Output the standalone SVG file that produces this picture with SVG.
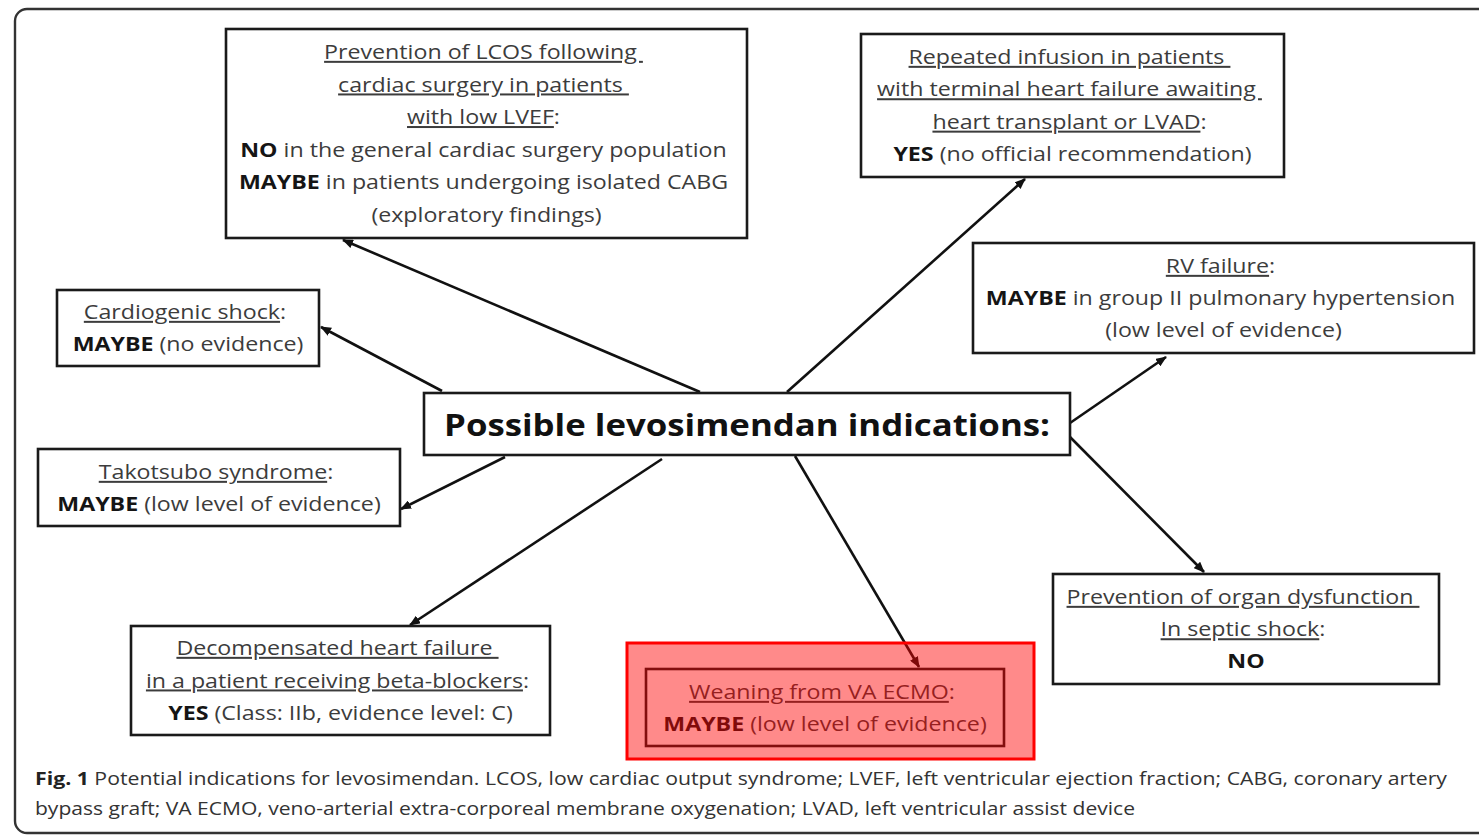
<svg xmlns="http://www.w3.org/2000/svg" width="1479" height="836" viewBox="0 0 1479 836">
<style>
.box{fill:#fff;stroke:#1a1a1a;stroke-width:2.6}
.t{font-family:"Open Sans","Noto Sans",sans-serif;font-size:20px;fill:#3c3c3c;text-anchor:middle}
.b{font-weight:bold;fill:#151515}
.u{text-decoration:underline}
.title{font-family:"Open Sans","Noto Sans",sans-serif;font-size:30px;font-weight:bold;fill:#111;text-anchor:middle}
.cap{font-family:"Open Sans","Noto Sans",sans-serif;font-size:18px;fill:#333}
.arr{stroke:#111;stroke-width:2.6;fill:none;marker-end:url(#ah)}
</style>
<defs>
<marker id="ah" markerUnits="userSpaceOnUse" markerWidth="11" markerHeight="9" refX="10" refY="4.5" orient="auto">
<path d="M0,0 L11,4.5 L0,9 z" fill="#111"/>
</marker>
</defs>
<rect width="1479" height="836" fill="#fff"/>
<rect id="frame" x="15" y="9" width="1480" height="824" rx="12" fill="none" stroke="#333" stroke-width="2.4"/>

<g id="connectors">
<line class="arr" x1="700" y1="392" x2="343" y2="240"/>
<line class="arr" x1="442" y1="391" x2="321" y2="327"/>
<line class="arr" x1="787" y1="392" x2="1025" y2="179"/>
<line class="arr" x1="1070" y1="423" x2="1166" y2="357"/>
<line class="arr" x1="1070" y1="437" x2="1204" y2="572"/>
<line class="arr" x1="505" y1="457" x2="401" y2="509"/>
<line class="arr" x1="662" y1="459" x2="410" y2="625"/>
<line class="arr" x1="795" y1="456" x2="919" y2="667"/>
</g>

<g id="node-center">
<rect class="box" x="424" y="393" width="646" height="62"/>
<text class="title" transform="translate(747,436) scale(1.16,1)">Possible levosimendan indications:</text>
</g>

<g id="node-lcos">
<rect class="box" x="226" y="29" width="521" height="209"/>
<text class="t" transform="translate(486.5,59) scale(1.16,1)">
<tspan x="0" y="0" class="u">Prevention of LCOS following&#160;</tspan>
<tspan x="0" y="32.6" class="u">cardiac surgery in patients&#160;</tspan>
<tspan x="0" y="65.2"><tspan class="u">with low LVEF</tspan>:</tspan>
<tspan x="0" y="97.8"><tspan class="b">NO</tspan> in the general cardiac surgery population</tspan>
<tspan x="0" y="130.4"><tspan class="b">MAYBE</tspan> in patients undergoing isolated CABG</tspan>
<tspan x="0" y="163">(exploratory findings)</tspan>
</text>
</g>

<g id="node-repeated">
<rect class="box" x="861" y="34" width="423" height="143"/>
<text class="t" transform="translate(1072.5,64) scale(1.16,1)">
<tspan x="0" y="0" class="u">Repeated infusion in patients&#160;</tspan>
<tspan x="0" y="32.4" class="u">with terminal heart failure awaiting&#160;</tspan>
<tspan x="0" y="64.8"><tspan class="u">heart transplant or LVAD</tspan>:</tspan>
<tspan x="0" y="97.2"><tspan class="b">YES</tspan> (no official recommendation)</tspan>
</text>
</g>

<g id="node-rv">
<rect class="box" x="973" y="243" width="501" height="110"/>
<text class="t" transform="translate(1223.5,273) scale(1.16,1)">
<tspan x="0" y="0"><tspan class="u">RV failure</tspan>:</tspan>
<tspan x="0" y="32.2"><tspan class="b">MAYBE</tspan> in group II pulmonary hypertension</tspan>
<tspan x="0" y="64.4">(low level of evidence)</tspan>
</text>
</g>

<g id="node-cardiogenic">
<rect class="box" x="57" y="290" width="262" height="76"/>
<text class="t" transform="translate(188,319) scale(1.16,1)">
<tspan x="0" y="0"><tspan class="u">Cardiogenic shock</tspan>:</tspan>
<tspan x="0" y="32.2"><tspan class="b">MAYBE</tspan> (no evidence)</tspan>
</text>
</g>

<g id="node-takotsubo">
<rect class="box" x="38" y="449" width="362" height="77"/>
<text class="t" transform="translate(219,479) scale(1.16,1)">
<tspan x="0" y="0"><tspan class="u">Takotsubo syndrome</tspan>:</tspan>
<tspan x="0" y="32.2"><tspan class="b">MAYBE</tspan> (low level of evidence)</tspan>
</text>
</g>

<g id="node-decompensated">
<rect class="box" x="131" y="626" width="419" height="109"/>
<text class="t" transform="translate(340.5,655) scale(1.16,1)">
<tspan x="0" y="0" class="u">Decompensated heart failure&#160;</tspan>
<tspan x="0" y="32.6"><tspan class="u">in a patient receiving beta-blockers</tspan>:</tspan>
<tspan x="0" y="65"><tspan class="b">YES</tspan> (Class: IIb, evidence level: C)</tspan>
</text>
</g>

<g id="node-organ">
<rect class="box" x="1053" y="574" width="386" height="110"/>
<text class="t" transform="translate(1246,604) scale(1.16,1)">
<tspan x="0" y="0" class="u">Prevention of organ dysfunction&#160;</tspan>
<tspan x="0" y="32.4"><tspan class="u">In septic shock</tspan>:</tspan>
<tspan x="0" y="64.4" class="b">NO</tspan>
</text>
</g>

<g id="node-ecmo">
<rect class="box" x="646" y="669" width="358" height="77"/>
<text class="t" transform="translate(825,699) scale(1.16,1)">
<tspan x="0" y="0"><tspan class="u">Weaning from VA ECMO</tspan>:</tspan>
<tspan x="0" y="32.2"><tspan class="b">MAYBE</tspan> (low level of evidence)</tspan>
</text>
<rect id="highlight" x="627" y="643" width="407" height="116" fill="#ff0000" fill-opacity="0.46" stroke="#ff0000" stroke-width="3"/>
</g>

<g id="caption">
<text class="cap" x="35" y="785" textLength="1412" lengthAdjust="spacingAndGlyphs"><tspan font-weight="bold" fill="#222">Fig. 1</tspan> Potential indications for levosimendan. LCOS, low cardiac output syndrome; LVEF, left ventricular ejection fraction; CABG, coronary artery</text>
<text class="cap" x="35" y="815" textLength="1100" lengthAdjust="spacingAndGlyphs">bypass graft; VA ECMO, veno-arterial extra-corporeal membrane oxygenation; LVAD, left ventricular assist device</text>
</g>
</svg>
